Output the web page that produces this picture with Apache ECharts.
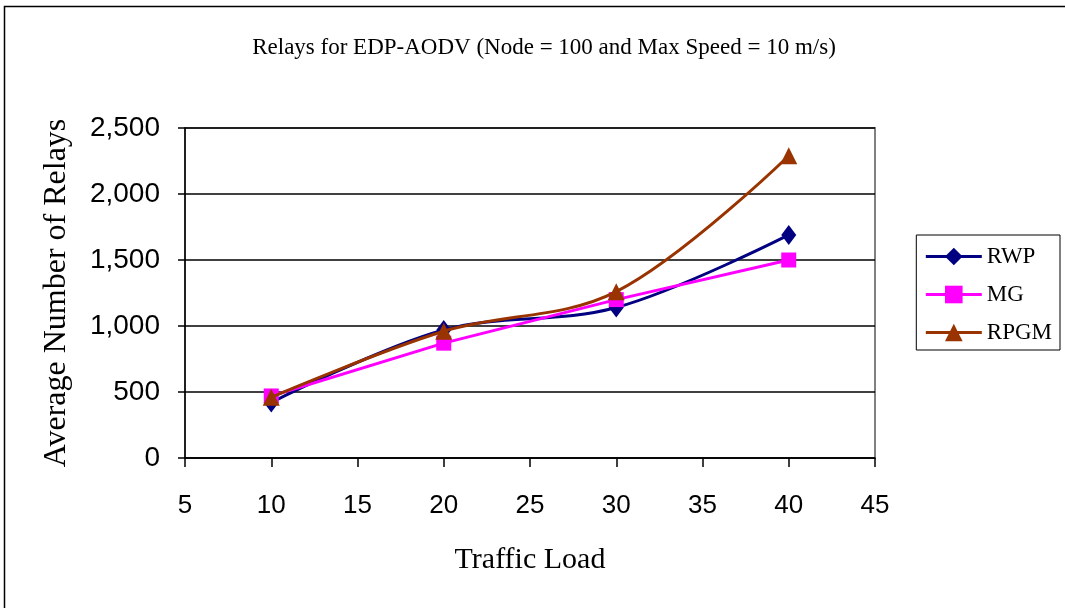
<!DOCTYPE html>
<html>
<head>
<meta charset="utf-8">
<script src="https://cdn.jsdelivr.net/npm/echarts@6/dist/echarts.min.js"></script>
<style>
html,body{margin:0;padding:0;background:#fff;}
#chart{width:1065px;height:608px;}
</style>
</head>
<body>
<div id="chart"></div>
<script>
const trafficLoad = [10, 20, 30, 40];
const rwp = [420, 970, 1140, 1690];
const mg = [470, 870, 1200, 1500];
const rpgm = [460, 960, 1260, 2290];
const seriesNames = ['RWP', 'MG', 'RPGM'];
const titleText = 'Relays for EDP-AODV (Node = 100 and Max Speed = 10 m/s)';

function pairs(vals){ return trafficLoad.map((x,i)=>[x, vals[i]]); }

const chart = echarts.init(document.getElementById('chart'), null, {renderer:'canvas'});
const serif = '"Liberation Serif", "DejaVu Serif", serif';
const sans = '"Liberation Sans", Arial, sans-serif';

chart.setOption({
  animation:false,
  backgroundColor:'#fff',
  title:{
    text:titleText, left:539, top:31, textAlign:'center',
    textStyle:{fontFamily:serif, fontSize:23, fontWeight:'normal', color:'#000'}
  },
  graphic:[
    {type:'rect', shape:{x:4.5, y:6.5, width:1100, height:700}, style:{fill:null, stroke:'#000', lineWidth:1.5}, silent:true, z:-1},
    {type:'rect', shape:{x:185, y:128, width:690, height:330}, style:{fill:null, stroke:'#808080', lineWidth:2}, silent:true, z:0}
  ],
  legend:{
    right:5, top:235, orient:'vertical',
    itemWidth:56, itemHeight:22, itemGap:15,
    padding:[10,8,6,8],
    borderColor:'#000', borderWidth:1,
    lineStyle:{width:3},
    textStyle:{fontFamily:serif, fontSize:23, color:'#000'},
    data:seriesNames
  },
  grid:{left:185, right:190, top:128, bottom:150},
  xAxis:{
    type:'value', min:5, max:45, interval:5,
    name:'Traffic Load', nameLocation:'middle', nameGap:87,
    nameTextStyle:{fontFamily:serif, fontSize:30, color:'#000'},
    axisLine:{show:true, lineStyle:{color:'#000', width:1.5}},
    axisTick:{show:true, length:9, lineStyle:{color:'#000', width:1.5}},
    axisLabel:{margin:35, fontFamily:sans, fontSize:26, color:'#000'},
    splitLine:{show:false}
  },
  yAxis:{
    type:'value', min:0, max:2500, interval:500,
    name:'Average Number of Relays', nameLocation:'middle', nameGap:112,
    nameTextStyle:{fontFamily:serif, fontSize:32, color:'#000'},
    axisLine:{show:true, lineStyle:{color:'#000', width:1.5}},
    axisTick:{show:true, length:7, lineStyle:{color:'#000', width:1.5}},
    axisLabel:{margin:25, fontFamily:sans, fontSize:28, color:'#000',
      formatter:v=>v.toLocaleString('en-US')},
    splitLine:{show:true, lineStyle:{color:'#000', width:1.5}}
  },
  series:[
    {name:seriesNames[0], type:'line', data:pairs(rwp), smooth:0.35,
     symbol:'diamond', symbolSize:[15,20],
     lineStyle:{color:'#000080', width:3}, itemStyle:{color:'#000080'}, z:3},
    {name:seriesNames[1], type:'line', data:pairs(mg), smooth:false,
     symbol:'rect', symbolSize:15,
     lineStyle:{color:'#FF00FF', width:3}, itemStyle:{color:'#FF00FF'}, z:4},
    {name:seriesNames[2], type:'line', data:pairs(rpgm), smooth:0.35,
     symbol:'triangle', symbolSize:[17,17],
     lineStyle:{color:'#993300', width:3}, itemStyle:{color:'#993300'}, z:5}
  ]
});
</script>
</body>
</html>
